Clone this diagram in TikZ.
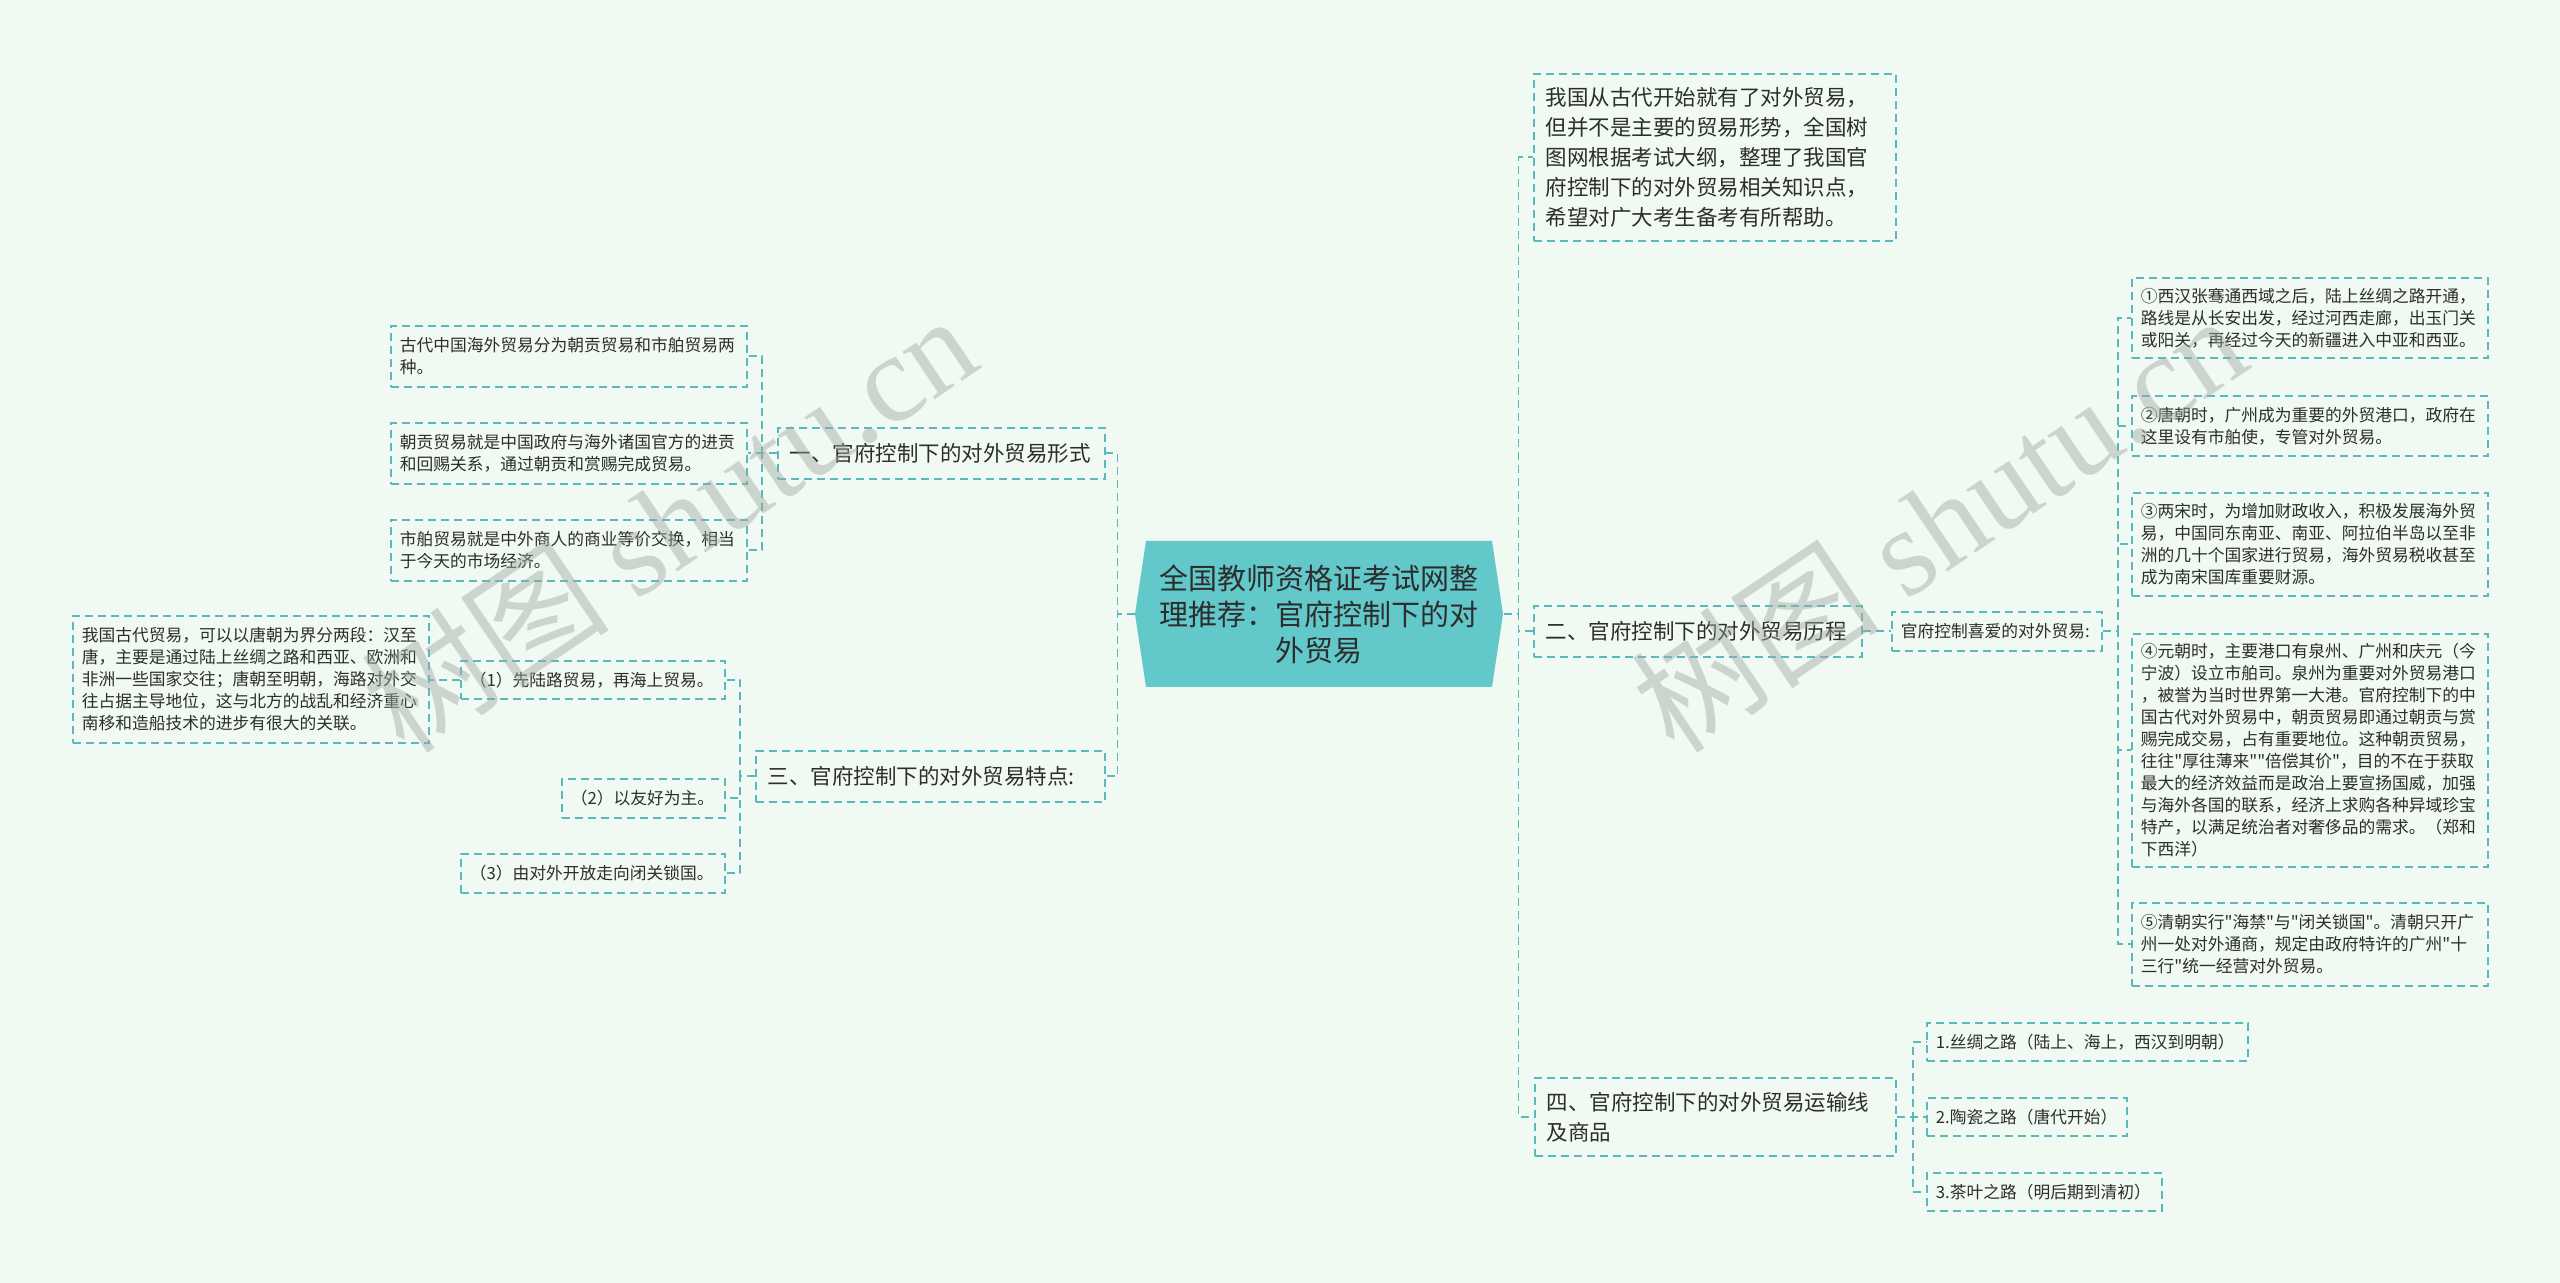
\documentclass[tikz,border=0pt]{standalone}
\usepackage{fontspec}
\newfontfamily\cjk{Noto Sans CJK SC}
\newfontfamily\wmfont{Liberation Serif}

\newdimen\pu \pu=0.4pt
\definecolor{bgc}{RGB}{240,249,242}
\definecolor{dashc}{RGB}{91,184,190}
\definecolor{rootc}{RGB}{98,200,202}
\definecolor{txtc}{RGB}{45,45,45}
\definecolor{wmc}{RGB}{160,170,164}

\tikzset{
  box/.style={draw=dashc, line width=0.7pt, dash pattern=on 3.2pt off 2pt,
    text=txtc, align=left, anchor=north west, inner ysep=0pt},
  sized/.style 2 args={minimum width=#1*\pu, minimum height=#2*\pu},
  topic/.style={box, inner xsep=12*\pu, font=\cjk\fontsize{8.6}{12}\selectfont},
  leaf/.style={box, inner xsep=9*\pu, font=\cjk\fontsize{6.7}{8.8}\selectfont},
  link/.style={draw=dashc, line width=0.7pt, dash pattern=on 3.2pt off 2pt},
  wm/.style={text=wmc, opacity=0.45, font=\cjk\fontsize{50}{50}\selectfont, rotate=34},
}

\begin{document}
\begin{tikzpicture}[x=0.4pt, y=-0.4pt]
  \useasboundingbox (0,0) rectangle (2560,1283);
  \fill[bgc] (0,0) rectangle (2560,1283);

  % centre
  \fill[rootc] (1135,614) -- (1146,541) -- (1492,541) -- (1503,614) -- (1492,687) -- (1146,687) -- cycle;
  \node[text=txtc, align=center, minimum width=368*\pu, minimum height=146*\pu,
    font=\cjk\fontsize{11.6}{14.4}\selectfont] (root) at (1319,614)
    {全国教师资格证考试网整\\理推荐：官府控制下的对\\外贸易};

  % right side
  \node[topic, sized={362}{167}, text width=338*\pu] (intro) at (1533,73)
    {我国从古代开始就有了对外贸易，\\但并不是主要的贸易形势，全国树\\图网根据考试大纲，整理了我国官\\府控制下的对外贸易相关知识点，\\希望对广大考生备考有所帮助。};
  \node[topic, sized={328}{51}, text width=304*\pu] (two) at (1533,605)
    {二、官府控制下的对外贸易历程};
  \node[leaf, sized={210}{39}, text width=192*\pu] (twoc) at (1891,611)
    {官府控制喜爱的对外贸易:};
  \node[leaf, sized={356}{80}, text width=338*\pu] (g1) at (2131,277)
    {①西汉张骞通西域之后，陆上丝绸之路开通，\\路线是从长安出发，经过河西走廊，出玉门关\\或阳关，再经过今天的新疆进入中亚和西亚。};
  \node[leaf, sized={356}{60}, text width=338*\pu] (g2) at (2131,395)
    {②唐朝时，广州成为重要的外贸港口，政府在\\这里设有市舶使，专管对外贸易。};
  \node[leaf, sized={356}{103}, text width=338*\pu] (g3) at (2131,492)
    {③两宋时，为增加财政收入，积极发展海外贸\\易，中国同东南亚、南亚、阿拉伯半岛以至非\\洲的几十个国家进行贸易，海外贸易税收甚至\\成为南宋国库重要财源。};
  \node[leaf, sized={356}{233}, text width=338*\pu] (g4) at (2131,633)
    {④元朝时，主要港口有泉州、广州和庆元（今\\宁波）设立市舶司。泉州为重要对外贸易港口\\，被誉为当时世界第一大港。官府控制下的中\\国古代对外贸易中，朝贡贸易即通过朝贡与赏\\赐完成交易，占有重要地位。这种朝贡贸易，\\往往"厚往薄来""倍偿其价"，目的不在于获取\\最大的经济效益而是政治上要宣扬国威，加强\\与海外各国的联系，经济上求购各种异域珍宝\\特产，以满足统治者对奢侈品的需求。（郑和\\下西洋）};
  \node[leaf, sized={356}{83}, text width=338*\pu] (g5) at (2131,902)
    {⑤清朝实行"海禁"与"闭关锁国"。清朝只开广\\州一处对外通商，规定由政府特许的广州"十\\三行"统一经营对外贸易。};
  \node[topic, sized={361}{78}, text width=337*\pu] (four) at (1534,1077)
    {四、官府控制下的对外贸易运输线\\及商品};
  \node[leaf, sized={321}{38}, text width=303*\pu] (s1) at (1926,1022)
    {1.丝绸之路（陆上、海上，西汉到明朝）};
  \node[leaf, sized={200}{38}, text width=182*\pu] (s2) at (1926,1097)
    {2.陶瓷之路（唐代开始）};
  \node[leaf, sized={235}{38}, text width=217*\pu] (s3) at (1926,1172)
    {3.茶叶之路（明后期到清初）};

  % left side
  \node[topic, sized={327}{51}, text width=303*\pu] (one) at (777,427)
    {一、官府控制下的对外贸易形式};
  \node[leaf, sized={356}{61}, text width=338*\pu] (c1) at (390,325)
    {古代中国海外贸易分为朝贡贸易和市舶贸易两\\种。};
  \node[leaf, sized={356}{61}, text width=338*\pu] (c2) at (390,422)
    {朝贡贸易就是中国政府与海外诸国官方的进贡\\和回赐关系，通过朝贡和赏赐完成贸易。};
  \node[leaf, sized={356}{61}, text width=338*\pu] (c3) at (390,519)
    {市舶贸易就是中外商人的商业等价交换，相当\\于今天的市场经济。};
  \node[topic, sized={349}{51}, text width=325*\pu] (three) at (755,750)
    {三、官府控制下的对外贸易特点:};
  \node[leaf, sized={264}{38}, text width=246*\pu] (p1) at (460,660)
    {（1）先陆路贸易，再海上贸易。};
  \node[leaf, sized={163}{39}, text width=145*\pu] (p2) at (561,778)
    {（2）以友好为主。};
  \node[leaf, sized={264}{39}, text width=246*\pu] (p3) at (460,853)
    {（3）由对外开放走向闭关锁国。};
  \node[leaf, sized={356}{127}, text width=338*\pu] (big) at (72,615)
    {我国古代贸易，可以以唐朝为界分两段：汉至\\唐，主要是通过陆上丝绸之路和西亚、欧洲和\\非洲一些国家交往；唐朝至明朝，海路对外交\\往占据主导地位，这与北方的战乱和经济重心\\南移和造船技术的进步有很大的关联。};

  % connectors
  \draw[link] (root.west) -- ++(-17,0) |- (one.east);
  \draw[link] (root.west) -- ++(-17,0) |- (three.east);
  \foreach \n in {intro,two,four}
    \draw[link] (root.east) -- ++(15,0) |- (\n.west);
  \foreach \n in {c1,c2,c3}
    \draw[link] (one.west) -- ++(-15,0) |- (\n.east);
  \foreach \n in {p1,p2,p3}
    \draw[link] (three.west) -- ++(-15,0) |- (\n.east);
  \draw[link] (p1.west) -- (p1.west -| big.east);
  \draw[link] (two.east) -- (twoc.west);
  \foreach \n in {g1,g2,g3,g4,g5}
    \draw[link] (twoc.east) -- ++(15,0) |- (\n.west);
  \foreach \n in {s1,s2,s3}
    \draw[link] (four.east) -- ++(16,0) |- (\n.west);

  % watermarks
  \node[wm] (wm1) at (668,522) {树图 {\wmfont shutu.cn}};
  \node[wm] (wm2) at (1938,522) {树图 {\wmfont shutu.cn}};
\end{tikzpicture}
\end{document}
